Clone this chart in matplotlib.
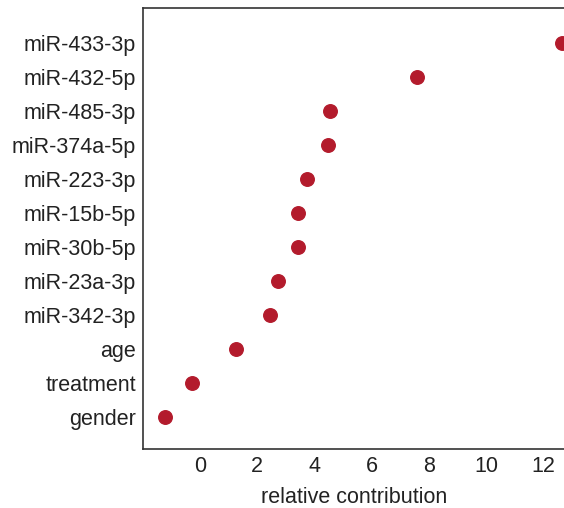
import matplotlib
matplotlib.use("Agg")
import matplotlib.pyplot as plt

# variables, top to bottom
labels = ["miR-433-3p", "miR-432-5p", "miR-485-3p", "miR-374a-5p", "miR-223-3p",
          "miR-15b-5p", "miR-30b-5p", "miR-23a-3p", "miR-342-3p", "age",
          "treatment", "gender"]
contrib = [12.65, 7.6, 4.55, 4.48, 3.74, 3.43, 3.43, 2.73, 2.45, 1.26, -0.28, -1.22]
xticks = [0, 2, 4, 6, 8, 10, 12]

plt.rcParams['font.family'] = ['Liberation Sans', 'DejaVu Sans']

fig = plt.figure(figsize=(5.64, 5.08), dpi=100)
# axes runs slightly past the right edge of the figure
ax = fig.add_axes([0.2535, 0.116, 0.750, 0.868])

ypos = list(range(len(labels)))[::-1]
ax.scatter(contrib, ypos, s=95, color="#b31b2c", zorder=3, clip_on=False)

ax.set_xlim(-2.0, 12.8)
ax.set_ylim(-0.95, len(labels) - 1 + 1.03)
ax.set_yticks(ypos)
ax.set_yticklabels(labels)
ax.set_xticks(xticks)
ax.tick_params(axis="both", length=0, labelsize=15.5, colors="#222222")
ax.tick_params(axis="y", pad=5)
ax.tick_params(axis="x", pad=5)
ax.set_xlabel("relative contribution", fontsize=15.5, color="#222222", labelpad=7)

for side in ["left", "top", "bottom"]:
    ax.spines[side].set_linewidth(1.2)
    ax.spines[side].set_color("#333333")
ax.spines["right"].set_visible(False)

fig.savefig("out.png", dpi=100)
